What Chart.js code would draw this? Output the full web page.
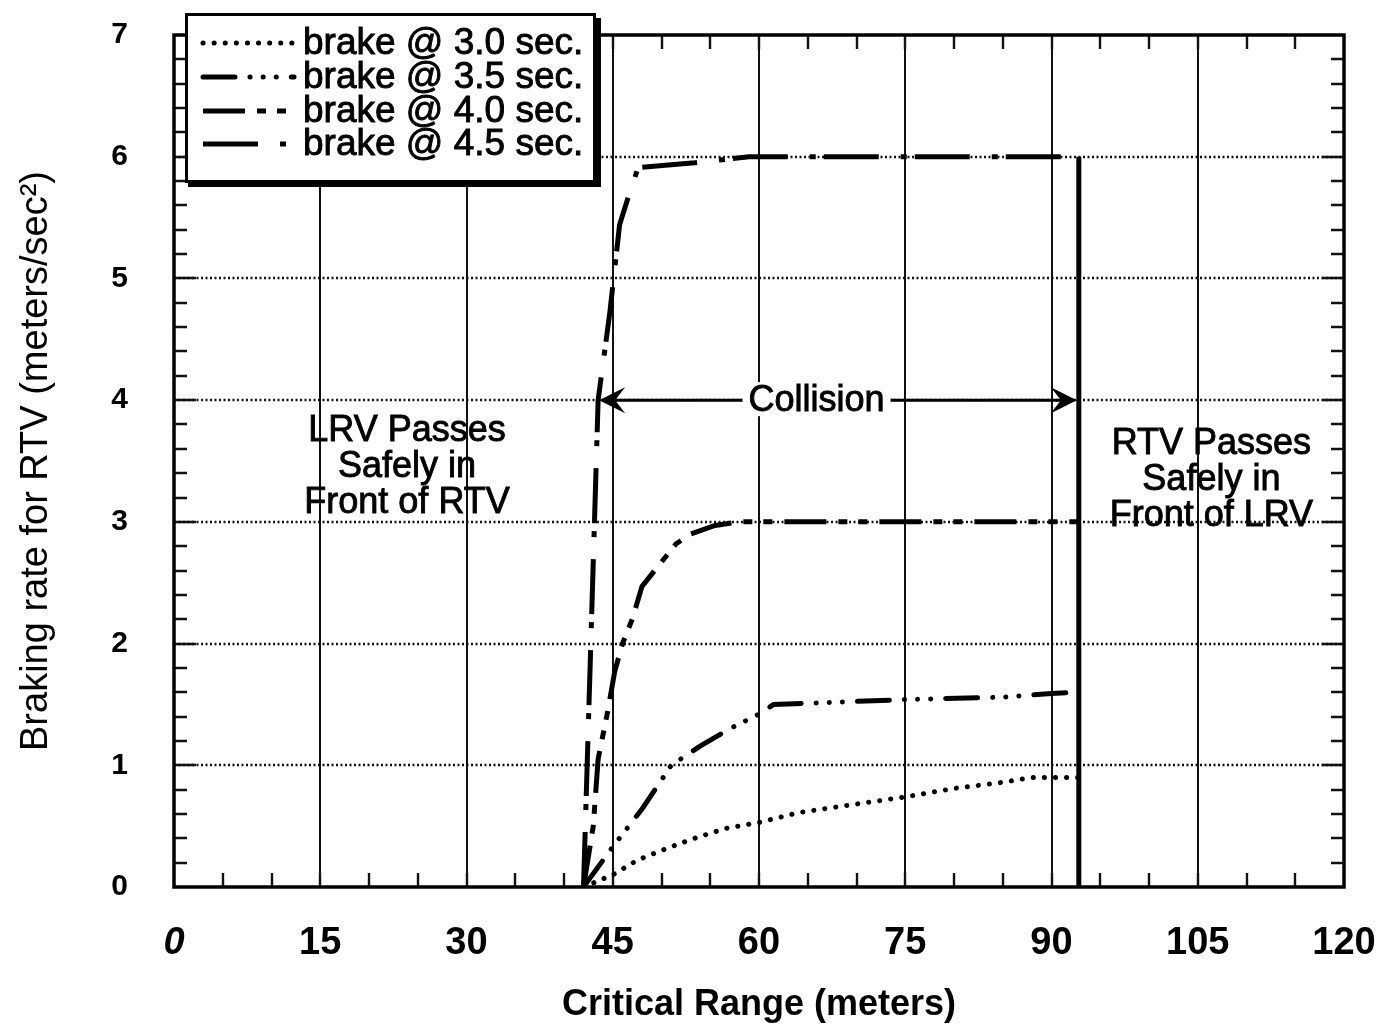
<!DOCTYPE html>
<html>
<head>
<meta charset="utf-8">
<script src="https://cdn.jsdelivr.net/npm/chart.js@4.4.0/dist/chart.umd.min.js"></script>
<style>
  html, body { margin: 0; padding: 0; background: #fff; }
  #wrap { width: 1378px; height: 1031px; }
</style>
</head>
<body>
<div id="wrap"><canvas id="brakeChart"></canvas></div>
<script>
// critical range (m) / braking rate for RTV (m/s^2)
var range30 = [42, 43.5, 45, 47.5, 50, 53, 56.5, 60, 64, 69, 75, 80, 85, 88, 92.8];
var brake30 = [0, 0.05, 0.1, 0.22, 0.3, 0.39, 0.48, 0.53, 0.61, 0.67, 0.74, 0.81, 0.86, 0.9, 0.9];

var range35 = [42, 45, 48, 51, 54, 57, 60, 61.5, 65, 75, 85, 90, 92.8];
var brake35 = [0, 0.33, 0.64, 1.0, 1.16, 1.3, 1.42, 1.5, 1.51, 1.54, 1.56, 1.59, 1.6];

var range40 = [42, 43, 43.5, 44, 44.5, 45.2, 46, 47, 48, 49.5, 51.5, 53, 55.5, 58, 92.8];
var brake40 = [0, 0.5, 1.05, 1.25, 1.45, 1.77, 2.0, 2.2, 2.47, 2.62, 2.82, 2.9, 2.97, 3.0, 3.0];

var range45 = [42, 43.5, 44.7, 45.7, 46.6, 47.6, 50.4, 53.4, 59, 92.8];
var brake45 = [0, 4.0, 4.72, 5.44, 5.67, 5.91, 5.93, 5.95, 6.0, 6.0];

// right-hand limit of the collision zone
var limitRange = [92.8, 92.8];
var limitBrake = [0, 6];

var seriesNames = ['brake @ 3.0 sec.', 'brake @ 3.5 sec.', 'brake @ 4.0 sec.', 'brake @ 4.5 sec.'];
var xTicks = [0, 15, 30, 45, 60, 75, 90, 105, 120];
var yTicks = [0, 1, 2, 3, 4, 5, 6, 7];

var collisionSpan = [43.6, 92.6];
var collisionRate = 4;

var FONT = "'Liberation Sans', Arial, Helvetica, sans-serif";
var NARROW = "'Liberation Sans Narrow', 'Arial Narrow', 'Liberation Sans', sans-serif";

function pts(xs, ys) {
    return xs.map(function (x, i) { return { x: x, y: ys[i] }; });
}

function line(label, xs, ys, dash, cap) {
    return {
        label: label,
        data: pts(xs, ys),
        borderColor: '#000',
        borderWidth: 5,
        borderDash: dash,
        borderCapStyle: cap,
        pointRadius: 0,
        tension: 0,
        fill: false
    };
}

var datasets = [
    line(seriesNames[0], range30, brake30, [0.1, 11], 'round'),
    line(seriesNames[1], range35, brake35, [32, 15, 0.1, 13, 0.1, 13, 0.1, 15], 'round'),
    line(seriesNames[2], range40, brake40, [42, 12, 9, 11, 9, 12], 'butt'),
    line(seriesNames[3], range45, brake45, [55, 22, 6, 8], 'butt'),
    line('', limitRange, limitBrake, [], 'butt')
];

// grid, inward ticks and frame
var frame = {
    id: 'frame',
    beforeDatasetsDraw: function (chart) {
        var ctx = chart.ctx, a = chart.chartArea;
        var xs = chart.scales.x, ys = chart.scales.y;
        ctx.save();
        ctx.strokeStyle = '#111';

        ctx.lineWidth = 2.4;
        ctx.setLineDash([2, 2.5]);
        yTicks.forEach(function (v) {
            if (v <= ys.min || v >= ys.max) return;
            var py = Math.round(ys.getPixelForValue(v));
            ctx.beginPath(); ctx.moveTo(a.left, py); ctx.lineTo(a.right, py); ctx.stroke();
        });

        ctx.setLineDash([]);
        ctx.lineWidth = 2;
        xTicks.forEach(function (v) {
            if (v <= xs.min || v >= xs.max) return;
            var px = Math.round(xs.getPixelForValue(v));
            ctx.beginPath(); ctx.moveTo(px, a.top); ctx.lineTo(px, a.bottom); ctx.stroke();
        });

        ctx.lineWidth = 2.4;
        var v, px, py, len;
        for (v = xs.min + 5; v < xs.max; v += 5) {
            px = Math.round(xs.getPixelForValue(v));
            ctx.beginPath();
            ctx.moveTo(px, a.bottom); ctx.lineTo(px, a.bottom - 14);
            ctx.moveTo(px, a.top); ctx.lineTo(px, a.top + 14);
            ctx.stroke();
        }
        for (var k = 1; k < (ys.max - ys.min) * 5; k++) {
            v = ys.min + k * 0.2;
            py = Math.round(ys.getPixelForValue(v));
            len = (k % 5 === 0) ? 22 : 13;
            ctx.beginPath();
            ctx.moveTo(a.left, py); ctx.lineTo(a.left + len, py);
            ctx.moveTo(a.right, py); ctx.lineTo(a.right - len, py);
            ctx.stroke();
        }

        ctx.lineWidth = 3.5;
        ctx.strokeStyle = '#000';
        ctx.strokeRect(a.left, a.top, a.width, a.height);
        ctx.restore();
    }
};

function arrowHead(ctx, x, y, dir) {
    ctx.beginPath();
    ctx.moveTo(x, y);
    ctx.lineTo(x + dir * 26, y - 13);
    ctx.lineTo(x + dir * 16, y);
    ctx.lineTo(x + dir * 26, y + 13);
    ctx.closePath();
    ctx.fill();
}

// text with a light outline, to get the heavier look of the print
function heavyText(ctx, t, x, y) {
    ctx.lineWidth = 0.9;
    ctx.strokeText(t, x, y);
    ctx.fillText(t, x, y);
}

// collision arrow and region notes
var notes = {
    id: 'notes',
    afterDatasetsDraw: function (chart) {
        var ctx = chart.ctx;
        var xs = chart.scales.x, ys = chart.scales.y;
        var x1 = xs.getPixelForValue(collisionSpan[0]);
        var x2 = xs.getPixelForValue(collisionSpan[1]);
        var y = ys.getPixelForValue(collisionRate);
        ctx.save();
        ctx.strokeStyle = '#000';
        ctx.fillStyle = '#000';
        ctx.lineWidth = 3;
        ctx.beginPath(); ctx.moveTo(x1 + 10, y); ctx.lineTo(x2 - 10, y); ctx.stroke();
        arrowHead(ctx, x1, y, 1);
        arrowHead(ctx, x2, y, -1);

        ctx.font = '36px ' + FONT;
        ctx.textAlign = 'center';
        ctx.textBaseline = 'middle';
        var cx = xs.getPixelForValue(65.9);
        var w = ctx.measureText('Collision').width;
        ctx.fillStyle = '#fff';
        ctx.fillRect(cx - w / 2 - 6, y - 18, w + 12, 34);
        ctx.fillStyle = '#000';
        heavyText(ctx, 'Collision', cx, y + 1);

        var blocks = [
            { x: 23.9, y: 3.45, lines: ['LRV Passes', 'Safely in', 'Front of RTV'] },
            { x: 106.4, y: 3.34, lines: ['RTV Passes', 'Safely in', 'Front of LRV'] }
        ];
        blocks.forEach(function (b) {
            var bx = xs.getPixelForValue(b.x), by = ys.getPixelForValue(b.y);
            b.lines.forEach(function (t, i) {
                heavyText(ctx, t, bx, by + (i - 1) * 36);
            });
        });
        ctx.restore();
    }
};

// boxed legend in the upper left corner
var boxLegend = {
    id: 'boxLegend',
    afterDraw: function (chart) {
        var ctx = chart.ctx;
        ctx.save();
        ctx.fillStyle = '#fff';
        ctx.fillRect(185, 13, 415, 174);
        ctx.fillStyle = '#000';
        ctx.fillRect(594, 18, 7, 169);
        ctx.fillRect(188, 180, 413, 7);
        ctx.strokeStyle = '#000';
        ctx.lineWidth = 3;
        ctx.strokeRect(186.5, 14.5, 408, 167);

        var rows = [43, 77, 111, 144];
        ctx.font = '37px ' + FONT;
        ctx.textAlign = 'left';
        ctx.textBaseline = 'middle';
        for (var i = 0; i < 4; i++) {
            var ds = chart.data.datasets[i];
            ctx.lineWidth = ds.borderWidth;
            ctx.lineCap = ds.borderCapStyle;
            ctx.setLineDash(ds.borderDash);
            ctx.beginPath();
            ctx.moveTo(203, rows[i]);
            ctx.lineTo(294, rows[i]);
            ctx.stroke();
            ctx.setLineDash([]);
            ctx.lineCap = 'butt';
            heavyText(ctx, ds.label, 303, rows[i] + 1);
        }
        ctx.restore();
    }
};

var hiddenGrid = function (len) {
    return { display: true, drawOnChartArea: false, drawTicks: true, tickLength: len, color: 'rgba(0,0,0,0)' };
};

new Chart(document.getElementById('brakeChart'), {
    type: 'line',
    data: { datasets: datasets },
    options: {
        responsive: true,
        maintainAspectRatio: false,
        animation: false,
        layout: { padding: { top: 35, right: 34, left: 0, bottom: 0 } },
        plugins: {
            legend: { display: false },
            tooltip: { enabled: false }
        },
        scales: {
            x: {
                type: 'linear',
                min: 0,
                max: 120,
                afterBuildTicks: function (s) { s.ticks = xTicks.map(function (v) { return { value: v }; }); },
                afterFit: function (s) { s.height = 144; },
                grid: hiddenGrid(34),
                border: { display: false },
                ticks: {
                    autoSkip: false,
                    maxRotation: 0,
                    padding: 0,
                    color: '#000',
                    font: function (c) {
                        var italic = c.tick && c.tick.value === 0;
                        return { family: NARROW, size: 38, weight: 'bold', style: italic ? 'italic' : 'normal' };
                    }
                },
                title: {
                    display: true,
                    text: 'Critical Range (meters)',
                    color: '#000',
                    font: { family: NARROW, size: 36, weight: 'bold' },
                    padding: { top: 0, bottom: 4 }
                }
            },
            y: {
                min: 0,
                max: 7,
                afterBuildTicks: function (s) { s.ticks = yTicks.map(function (v) { return { value: v }; }); },
                afterFit: function (s) { s.width = 174; },
                grid: hiddenGrid(40),
                border: { display: false },
                ticks: {
                    padding: 6,
                    color: '#000',
                    font: { family: FONT, size: 30, weight: 'bold' }
                },
                title: {
                    display: true,
                    text: 'Braking rate for RTV (meters/sec²)',
                    color: '#000',
                    font: { family: FONT, size: 38 },
                    padding: { top: 14, bottom: 0 }
                }
            }
        }
    },
    plugins: [frame, notes, boxLegend]
});
</script>
</body>
</html>
